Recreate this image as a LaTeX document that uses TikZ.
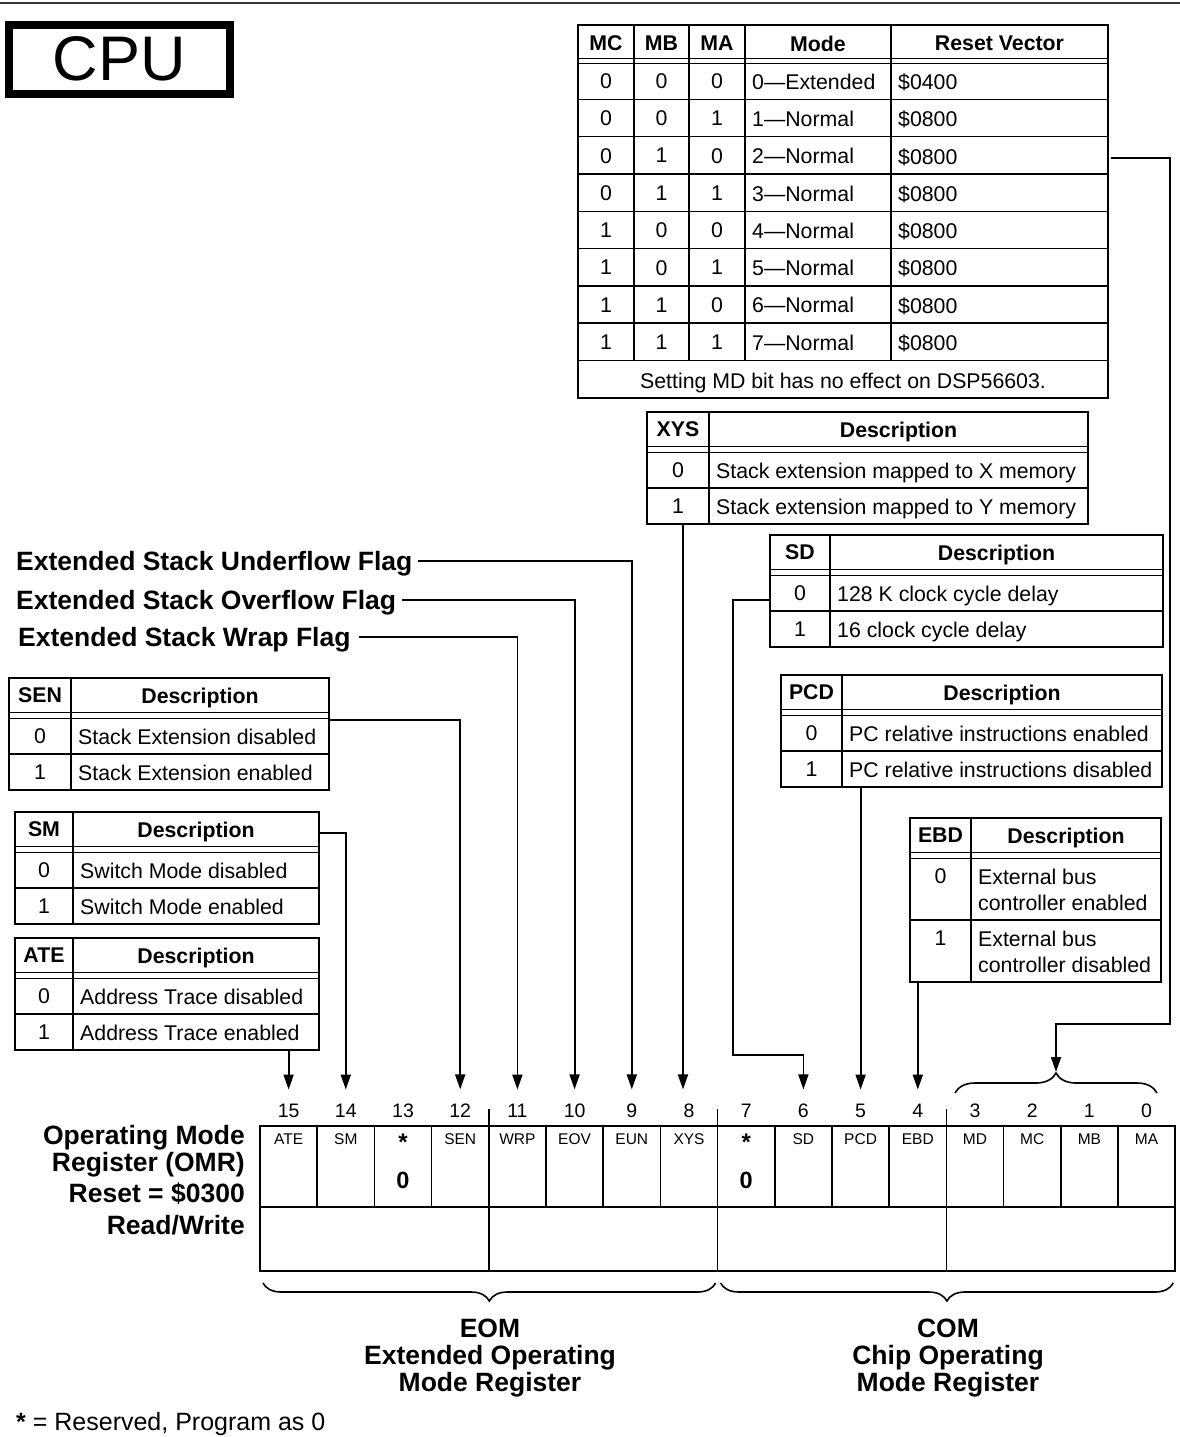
\documentclass[tikz,border=0pt]{standalone}
\usepackage{fontspec}
\setmainfont{Liberation Sans}
\usepackage{tikz}
\usetikzlibrary{arrows.meta,positioning,decorations.pathreplacing}
\tikzset{
  tbl/.style={draw,line width=1.4pt,inner sep=0pt,outer sep=0pt,anchor=north west},
  tline/.style={line width=1.4pt},
  dline/.style={line width=1pt},
  hdr/.style={font=\fontsize{21.3}{26}\selectfont\bfseries,inner sep=0pt,anchor=north},
  txt/.style={font=\fontsize{21.3}{26}\selectfont,inner sep=0pt,align=left,anchor=north west},
  val/.style={font=\fontsize{21.3}{26}\selectfont,inner sep=0pt,anchor=north},
  flag/.style={font=\fontsize{26.5}{27}\selectfont\bfseries,inner sep=0pt,text height=19pt,text depth=0pt,anchor=west},
  lbl/.style={font=\fontsize{26.5}{27}\selectfont\bfseries,inner sep=0pt,align=center,anchor=north},
  bitnum/.style={font=\fontsize{19.5}{20}\selectfont,inner sep=0pt,outer ysep=14pt,anchor=base},
  bitname/.style={font=\fontsize{15.5}{16}\selectfont,inner sep=0pt,anchor=north},
  zero/.style={font=\fontsize{23.5}{24}\selectfont\bfseries,inner sep=0pt,anchor=north},
  cell/.style={draw,line width=1.6pt,inner sep=0pt,outer sep=0pt,anchor=north west,minimum width=57.2pt,minimum height=81pt},
  grp/.style={draw,line width=1.6pt,inner sep=0pt,outer sep=0pt,anchor=north west,minimum width=228.8pt,minimum height=64pt},
  arr/.style={-{Triangle[length=15pt,width=10pt]},line width=1.8pt},
  brc/.style={decorate,decoration={brace,amplitude=#1},line width=1.6pt}
}
\newcommand{\rsvmark}{{\fontsize{24}{24}\selectfont\bfseries *}}
% name, left, top, divider, right, row height, field, row 0, row 1
\newcommand{\desctab}[9]{%
  \node[tbl,minimum width={#5-#2},minimum height={40+2*#6}] (#1) at (#2,#3) {};
  \draw[tline] (#4,#3) -- (#4,{#3+40+2*#6});
  \draw[dline] (#2,{#3+34}) -- (#5,{#3+34}) (#2,{#3+40}) -- (#5,{#3+40});
  \draw[tline] (#2,{#3+40+#6}) -- (#5,{#3+40+#6});
  \node[hdr] (#1-f) at ({(#2+#4)/2},{#3+9.5}) {#7};
  \node[hdr] (#1-d) at ({(#4+#5)/2},{#3+9.5}) {Description};
  \node[val] (#1-v0) at ({(#2+#4)/2},{#3+50.5}) {0};
  \node[val] (#1-v1) at ({(#2+#4)/2},{#3+50.5+#6}) {1};
  \node[txt] (#1-t0) at ({#4+7},{#3+50.5}) {#8};
  \node[txt] (#1-t1) at ({#4+7},{#3+50.5+#6}) {#9};
}

\begin{document}
\begin{tikzpicture}[x=1pt,y=-1pt]
  \fill[white] (0,0) rectangle (1180,1437);
  \useasboundingbox (0,0) rectangle (1180,1437);
  \draw[line width=2pt,black!80] (0,3) -- (1180,3);
  \node[draw,line width=8pt,minimum width=221pt,minimum height=69pt,inner sep=0pt,
        font=\fontsize{63}{63}\selectfont] (cpu) at (119.4,59.1) {CPU};

  % mode table
  \node[tbl,minimum width=530pt,minimum height=373pt] (mode) at (578,25) {};
  \foreach \x in {634,689,745,891} \draw[tline] (\x,25) -- (\x,360.4);
  \draw[dline] (578,59) -- (1108,59) (578,64) -- (1108,64);
  \foreach \k in {0,...,7} \draw[tline] (578,{99.3+37.3*\k}) -- (1108,{99.3+37.3*\k});
  \node[hdr] (hmc) at (606,35.5) {MC};
  \node[hdr] (hmb) at (661.5,35.5) {MB};
  \node[hdr] (hma) at (717,35.5) {MA};
  \node[hdr] (hmd) at (818,35.5) {Mode};
  \node[hdr] (hrv) at (999.5,35.5) {Reset Vector};
  \foreach \k/\vc/\vb/\va/\m/\rv in {0/0/0/0/Extended/0400,1/0/0/1/Normal/0800,
      2/0/1/0/Normal/0800,3/0/1/1/Normal/0800,4/1/0/0/Normal/0800,
      5/1/0/1/Normal/0800,6/1/1/0/Normal/0800,7/1/1/1/Normal/0800}{
    \pgfmathsetmacro\yy{73.5+37.3*\k}
    \node[val] (mc\k) at (606,\yy) {\vc};
    \node[val] (mb\k) at (661.5,\yy) {\vb};
    \node[val] (ma\k) at (717,\yy) {\va};
    \node[txt] (md\k) at (752,\yy) {\k---\m};
    \node[txt] (rv\k) at (898,\yy) {\$\rv};
  }
  \node[val] (mdnote) at (843,372.5) {Setting MD bit has no effect on DSP56603.};

  % bit tables
  \desctab{xys}{647}{412}{709}{1088}{36}{XYS}{Stack extension mapped to X memory}{Stack extension mapped to Y memory}
  \desctab{sd}{770}{535}{830}{1163}{36}{SD}{128 K clock cycle delay}{16 clock cycle delay}
  \desctab{pcd}{781}{675}{842}{1162}{36}{PCD}{PC relative instructions enabled}{PC relative instructions disabled}
  \desctab{ebd}{910}{818}{971}{1161}{62}{EBD}{External bus\\controller enabled}{External bus\\controller disabled}
  \desctab{sen}{9}{678}{71}{329}{36}{SEN}{Stack Extension disabled}{Stack Extension enabled}
  \desctab{sm}{15}{812}{73}{319}{36}{SM}{Switch Mode disabled}{Switch Mode enabled}
  \desctab{ate}{15}{938}{73}{319}{36}{ATE}{Address Trace disabled}{Address Trace enabled}

  \node[flag] (fu) at (16,561) {Extended Stack Underflow Flag};
  \node[flag] (fo) at (16,600) {Extended Stack Overflow Flag};
  \node[flag] (fw) at (18,637) {Extended Stack Wrap Flag};

  % register
  \foreach \bit/\nm in {15/ATE,14/SM,13/\rsvmark,12/SEN,11/WRP,10/EOV,9/EUN,8/XYS,
      7/\rsvmark,6/SD,5/PCD,4/EBD,3/MD,2/MC,1/MB,0/MA}{
    \pgfmathsetmacro\xl{260+57.2*(15-\bit)}
    \pgfmathsetmacro\xc{\xl+28.6}
    \node[cell] (b\bit) at (\xl,1126) {};
    \node[bitname] (l\bit) at (\xc,1133.5) {\nm};
    \node[bitnum] (n\bit) at (\xc,1117) {\bit};
  }
  \node[zero] (z13) at (403,1172) {0};
  \node[zero] (z7) at (746.2,1172) {0};
  \foreach \g in {15,11,7,3}{
    \pgfmathsetmacro\xl{260+57.2*(15-\g)}
    \node[grp] (r\g) at (\xl,1207) {};
  }
  \foreach \bit in {12,8,4} \draw[tline] (b\bit.north east) -- ++(0,-17);

  \node[lbl,align=right,anchor=north east] (omr) at (245,1125.5)
    {Operating Mode\\Register (OMR)\\[4pt]Reset = \$0300\\[5pt]Read/Write};

  % braces
  \draw[brc=20pt] (955,1093) -- (1157,1093);
  \coordinate (brtip) at (1056,1072);
  \draw[brc=18pt] ([xshift=-2pt,yshift=-12pt]r11.south east) -- ([xshift=3pt,yshift=-12pt]r15.south west);
  \draw[brc=18pt] ([xshift=-2pt,yshift=-12pt]r3.south east) -- ([xshift=3pt,yshift=-12pt]r7.south west);
  \node[lbl] (eom) at (490,1318.5) {EOM\\Extended Operating\\Mode Register};
  \node[lbl] (com) at (948,1318.5) {COM\\Chip Operating\\Mode Register};

  % connectors
  \draw[arr] ([xshift=3pt,yshift=-133pt]mode.north east) -| ++(59,866) -| (brtip);
  \draw[arr] ([xshift=5pt]fu.east) -| (n9.north);
  \draw[arr] ([xshift=6pt]fo.east) -| (n10.north);
  \draw[arr] ([xshift=8pt]fw.east) -| (n11.north);
  \draw[arr] ([yshift=-42pt]sen.north east) -| (n12.north);
  \draw[arr] ([yshift=-21pt]sm.north east) -| (n14.north);
  \draw[arr] (ate.south -| n15.north) -- (n15.north);
  \draw[arr] ([xshift=-6pt]xys.south -| n8.north) -- ([xshift=-6pt]n8.north);
  \draw[arr] ([yshift=-65pt]sd.north west) -| ++(-37,455) -| (n6.north);
  \draw[arr] (pcd.south -| n5.north) -- (n5.north);
  \draw[arr] (ebd.south -| n4.north) -- (n4.north);

  \node[font=\fontsize{25}{26}\selectfont,inner sep=0pt,anchor=north west] (fn) at (16,1412)
    {\textbf{*} = Reserved, Program as 0};
\end{tikzpicture}
\end{document}
